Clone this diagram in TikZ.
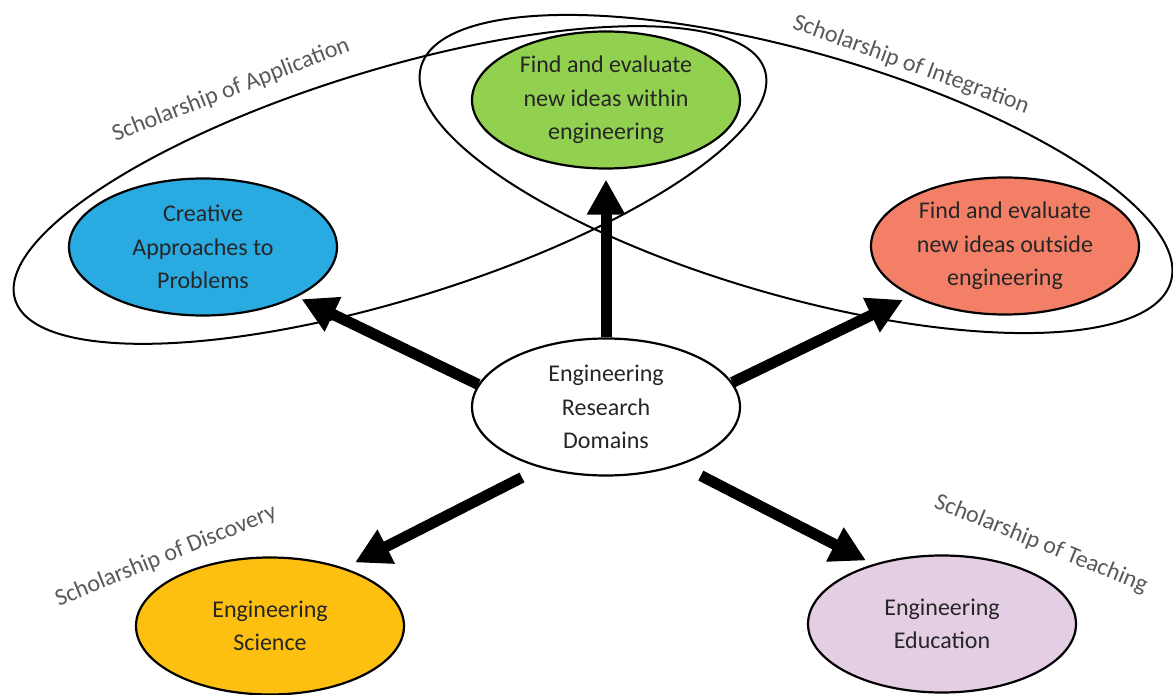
\documentclass[tikz,border=0pt]{standalone}
\usepackage{fontspec}
\setmainfont{Carlito}
\usepackage{xcolor}
\usepackage{tikz}
\usetikzlibrary{arrows.meta,shapes.geometric}
\definecolor{rGreen}{HTML}{92D050}
\definecolor{rBlue}{HTML}{29ABE2}
\definecolor{rSalmon}{HTML}{F47F67}
\definecolor{rYellow}{HTML}{FDC010}
\definecolor{rLilac}{HTML}{E4CEE4}
\definecolor{rText}{HTML}{262626}
\definecolor{rGrey}{HTML}{595959}
\tikzset{
  bigarrow/.style={-{Triangle[length=35pt,width=36pt]}, line width=11pt},
  scholar/.style={font=\fontsize{24pt}{27pt}\selectfont, text=rGrey, inner sep=0pt},
  outline/.style={line width=2pt}
}
\newcommand{\rnode}[4]{%
 \node[draw=black, line width=2.2pt, fill=#3, ellipse, inner sep=0pt, minimum width=268pt, minimum height=137pt, align=center, font=\fontsize{24pt}{33.5pt}\selectfont, text=rText] (#2) at (#1) {#4};}

\begin{document}
\begin{tikzpicture}[x=1pt, y=-1pt]
\useasboundingbox (0,0) rectangle (1173,695);
% scholarship outlines
\draw[outline, rotate around={17:(390,185)}] (390,185) ellipse [x radius=392pt, y radius=115pt];
\draw[outline, rotate around={-16:(796,174)}] (796,174) ellipse [x radius=390pt, y radius=122pt];
% domains
\rnode{606,407}{ctr}{white}{Engineering\\Research\\Domains}
\rnode{606,100}{green}{rGreen}{Find and evaluate\\new ideas within\\engineering}
\rnode{203,247}{blue}{rBlue}{Creative\\Approaches to\\Problems}
\rnode{1005,246}{salmon}{rSalmon}{Find and evaluate\\new ideas outside\\engineering}
\rnode{270,626}{yellow}{rYellow}{Engineering\\Science}
\rnode{942,624}{lilac}{rLilac}{Engineering\\Education}
% arrows
\draw[bigarrow, shorten >=10pt] (ctr.90) -- (green.-90);
\draw[bigarrow, shorten >=5pt] (ctr.170) -- (blue.-28);
\draw[bigarrow, shorten >=9pt] (ctr.11) -- (salmon.-152);
\draw[bigarrow, shorten <=21pt, shorten >=12pt] (ctr.-137.6) -- (yellow.38);
\draw[bigarrow, shorten <=23pt, shorten >=8pt] (ctr.-38.3) -- (lilac.139);
% labels
\node[scholar, rotate=21] (app) at (231,90) {Scholarship of Application};
\node[scholar, rotate=-20] (integ) at (911,65) {Scholarship of Integration};
\node[scholar, rotate=22] (disc) at (166,556) {Scholarship of Discovery};
\node[scholar, rotate=-22] (teach) at (1041,544) {Scholarship of Teaching};
\end{tikzpicture}
\end{document}
